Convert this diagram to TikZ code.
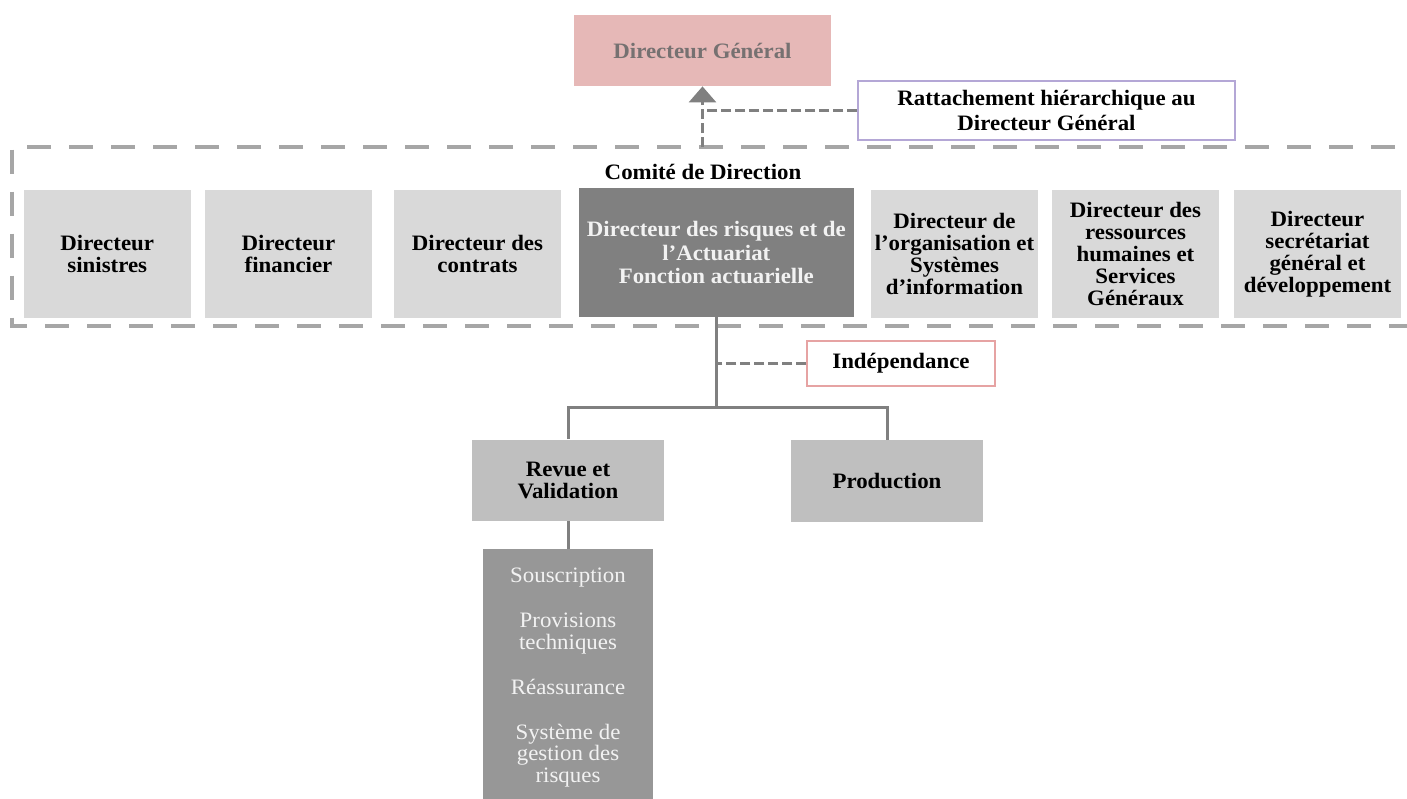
\documentclass[tikz,border=0pt]{standalone}
\usepackage{fontspec}
\setmainfont{Liberation Serif}[FakeStretch=1.04]
\usetikzlibrary{arrows.meta,calc}
\definecolor{dgfill}{HTML}{E6B8B7}
\definecolor{dgtext}{HTML}{767171}
\definecolor{lightfill}{HTML}{D9D9D9}
\definecolor{darkfill}{HTML}{808080}
\definecolor{midfill}{HTML}{BFBFBF}
\definecolor{listfill}{HTML}{979797}
\definecolor{framecol}{HTML}{A6A6A6}
\definecolor{conncol}{HTML}{808080}
\definecolor{purplecol}{HTML}{B4A7D6}
\definecolor{redcol}{HTML}{E6A3A3}
\definecolor{paletext}{HTML}{F2F2F2}
\begin{document}
\begin{tikzpicture}[x=0.5pt,y=-0.5pt,
  boldtxt/.style={font=\fontsize{11}{11}\selectfont\bfseries, align=center},
  plaintxt/.style={font=\fontsize{11}{10.85}\selectfont, align=center},
  sized/.style 2 args={minimum width=#1*0.5pt, minimum height=#2*0.5pt, inner sep=0pt},
  lbox/.style={boldtxt, sized={166.5}{128}, fill=lightfill},
  dbox/.style={boldtxt, sized={274.6}{129}, fill=darkfill, text=paletext},
  mbox/.style={boldtxt, fill=midfill},
  lstbox/.style={plaintxt, fill=listfill, text=paletext},
  framestyle/.style={draw=framecol, line width=2pt, dash pattern=on 12pt off 9pt},
  conn/.style={draw=conncol, line width=1.5pt},
  conndash/.style={conn, dash pattern=on 5pt off 2pt},
  labelbox/.style={boldtxt, fill=white, line width=0.75pt}
]
\useasboundingbox (0,0) rectangle (1407,798);

% big dashed frame (Comité de Direction)
\draw[framestyle] (1395,147) -- (11.5,147) -- (11.5,326) -- (1420,326);

% top
\node[boldtxt, sized={257}{71}, fill=dgfill, text=dgtext] (dg) at (702.5,50.5) {Directeur Général};
\node[labelbox, sized={377}{59}, draw=purplecol, font=\fontsize{11}{12.5}\selectfont\bfseries] (ratt) at (1046.5,110.5) {Rattachement hiérarchique au\\Directeur Général};
\coordinate (ctop) at (702.5,147);
\draw[conndash, -{Triangle[width=13.5pt,length=8pt]}] (ctop) -- (dg.south);
\draw[conndash] (ratt.west) -- (ratt.west -| dg.south);

\node[boldtxt] (comite) at (703,171.5) {Comité de Direction};

% committee boxes
\node[lbox] (b1) at (107.25,254) {Directeur\\sinistres};
\node[lbox] (b2) at (288.5,254) {Directeur\\financier};
\node[lbox] (b3) at (477.5,254) {Directeur des\\contrats};
\node[dbox, font=\fontsize{11}{11.75}\selectfont\bfseries] (act) at (716.3,252.5) {Directeur des risques et de\\l’Actuariat\\Fonction actuarielle};
\node[lbox] (b5) at (954.5,254) {Directeur de\\l’organisation et\\Systèmes\\d’information};
\node[lbox] (b6) at (1135.5,254) {Directeur des\\ressources\\humaines et\\Services\\Généraux};
\node[lbox] (b7) at (1317.5,254) {Directeur\\secrétariat\\général et\\développement};

% lower part
\node[labelbox, sized={188}{45}, draw=redcol] (ind) at (901,363.5) {Indépendance};
\node[mbox, sized={191.5}{81.5}] (rev) at (568,480.3) {Revue et\\Validation};
\node[mbox, sized={192}{82}] (prod) at (887,481) {Production};
\node[lstbox, sized={170}{257}] (lst) at (568,677.5) {Souscription\\[11.65pt]Provisions\\techniques\\[11.65pt]Réassurance\\[11.65pt]Système de\\gestion des\\risques};

\coordinate (split) at (716.3,407);
\draw[conn] (act.south) -- (split);
\draw[conn] (rev.north) -- (rev.north |- split) -- (prod.north |- split) -- (prod.north);
\draw[conndash] (ind.west) -- (ind.west -| act.south);
\draw[conn] (rev.south) -- (lst.north);
\end{tikzpicture}
\end{document}
